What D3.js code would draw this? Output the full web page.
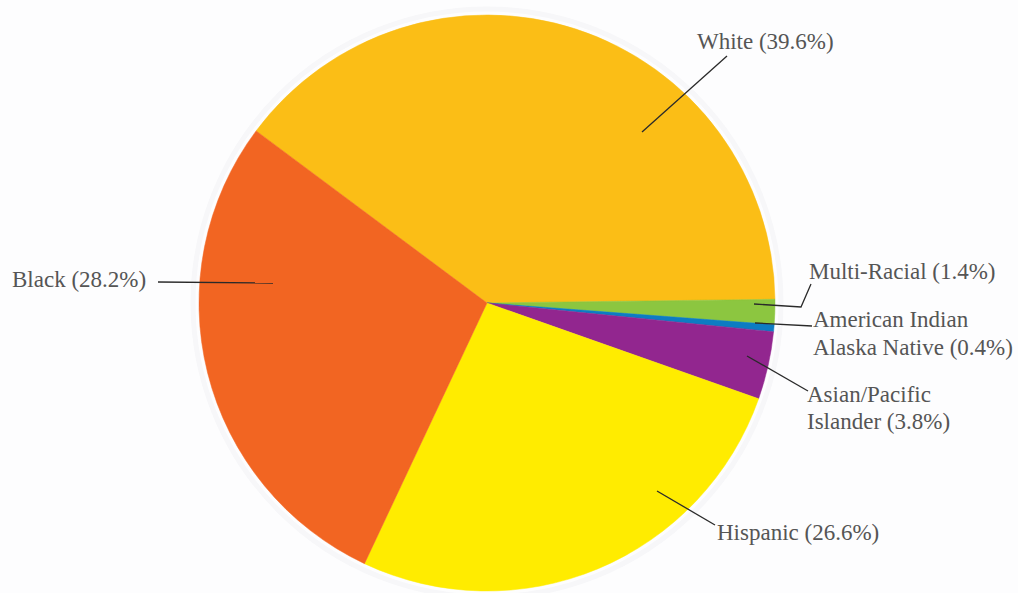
<!DOCTYPE html>
<html>
<head>
<meta charset="utf-8">
<script src="https://cdn.jsdelivr.net/npm/d3@7"></script>
<style>
  html, body { margin: 0; padding: 0; background: #fdfdfe; }
  svg { display: block; }
  .lbl { font-family: "Liberation Serif", "DejaVu Serif", serif; font-size: 23px; fill: #555; }
</style>
</head>
<body>
<svg id="chart" width="1018" height="593"></svg>
<script>
// Share of population by race/ethnicity (%)
const categories = ["White", "Multi-Racial", "American Indian Alaska Native", "Asian/Pacific Islander", "Hispanic", "Black"];
const shares = [39.6, 1.4, 0.4, 3.8, 26.6, 28.2];
const labelLines = [
  ["White (39.6%)"],
  ["Multi-Racial (1.4%)"],
  ["American Indian", "Alaska Native (0.4%)"],
  ["Asian/Pacific", "Islander (3.8%)"],
  ["Hispanic (26.6%)"],
  ["Black (28.2%)"]
];
const colors = ["#fbbe14", "#8cc63f", "#0a7cc2", "#92278f", "#ffec00", "#f26522"];

// Label placement: text anchor point and leader line path
const layout = [
  { tx: 697, ty: 49, lh: 0, path: [[642, 132], [727, 56]] },
  { tx: 809, ty: 279, lh: 0, path: [[754, 304], [801, 307], [811, 284]] },
  { tx: 813, ty: 327, lh: 28, path: [[755, 323], [812, 326]] },
  { tx: 807, ty: 402, lh: 27, path: [[747, 356], [808, 391]] },
  { tx: 717, ty: 540, lh: 0, path: [[657, 491], [715, 525]] },
  { tx: 12, ty: 287, lh: 0, path: [[158, 282], [273, 283]] }
];

const svg = d3.select("#chart");
const cx = 487, cy = 303, radius = 288;

const defs = svg.append("defs");
defs.append("filter").attr("id", "soft")
  .append("feGaussianBlur").attr("stdDeviation", 0.7);

const data = categories.map((c, i) => ({ name: c, value: shares[i], color: colors[i], i }));

const pie = d3.pie()
  .value(d => d.value)
  .sort(null)
  .startAngle(-53.3 * Math.PI / 180)
  .endAngle((360 - 53.3) * Math.PI / 180);

const arc = d3.arc().innerRadius(0).outerRadius(radius);

const g = svg.append("g").attr("transform", `translate(${cx},${cy})`);

// faint halo around the disc
g.append("circle").attr("r", radius + 6).attr("fill", "none")
  .attr("stroke", "#f7f7f9").attr("stroke-width", 5).attr("filter", "url(#soft)");

g.append("g").attr("filter", "url(#soft)")
  .selectAll("path")
  .data(pie(data))
  .join("path")
  .attr("d", arc)
  .attr("fill", d => d.data.color)
  .attr("stroke", d => d.data.color)
  .attr("stroke-width", 0.5);

// leader lines
const line = d3.line();
svg.append("g")
  .selectAll("path")
  .data(layout)
  .join("path")
  .attr("d", d => line(d.path))
  .attr("fill", "none")
  .attr("stroke", "#2a2a2a")
  .attr("stroke-width", 1.3);

// labels
const labels = svg.append("g")
  .selectAll("text")
  .data(data)
  .join("text")
  .attr("class", "lbl")
  .attr("x", d => layout[d.i].tx)
  .attr("y", d => layout[d.i].ty);

labels.each(function(d) {
  const t = d3.select(this);
  labelLines[d.i].forEach((s, k) => {
    t.append("tspan")
      .attr("x", layout[d.i].tx)
      .attr("dy", k === 0 ? 0 : layout[d.i].lh)
      .text(s);
  });
});
</script>
</body>
</html>
